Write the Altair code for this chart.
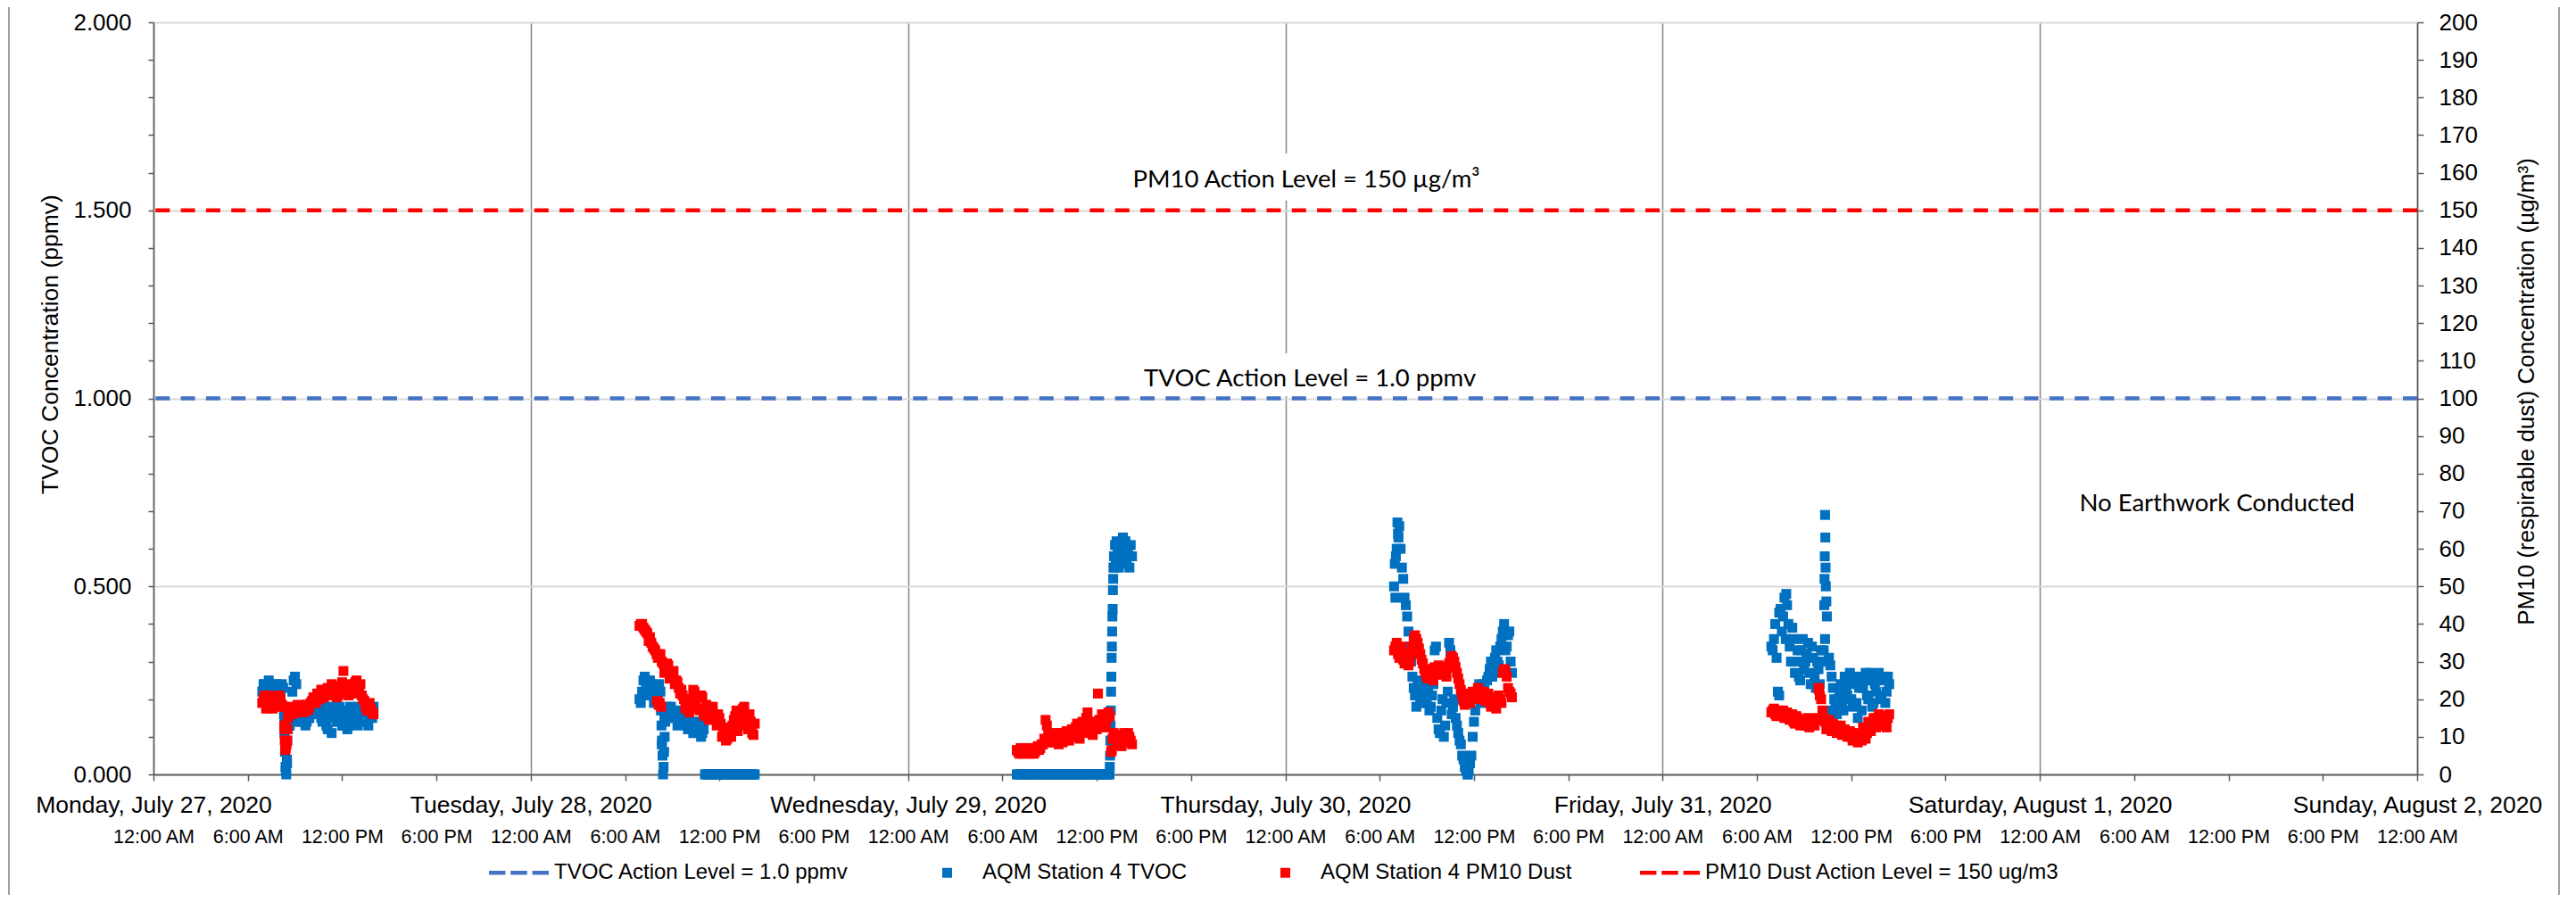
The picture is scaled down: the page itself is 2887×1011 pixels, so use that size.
import altair as alt
import pandas as pd

FONT = "Liberation Sans"
NOTE_FONT = "Lato"
AX = "#595959"

# ---------------- categories / tick labels ----------------
DAY_DATES = ["2020-07-27", "2020-07-28", "2020-07-29", "2020-07-30", "2020-07-31"]
AXIS_DATES = ["2020-07-27", "2020-07-28", "2020-07-29", "2020-07-30",
              "2020-07-31", "2020-08-01", "2020-08-02"]
TICK_HOURS = ["00:00", "06:00", "12:00", "18:00"]
LEFT_TICKS = [0.0, 0.1, 0.2, 0.3, 0.4, 0.5, 0.6, 0.7, 0.8, 0.9, 1.0,
              1.1, 1.2, 1.3, 1.4, 1.5, 1.6, 1.7, 1.8, 1.9, 2.0]
RIGHT_TICKS = [0, 10, 20, 30, 40, 50, 60, 70, 80, 90, 100,
               110, 120, 130, 140, 150, 160, 170, 180, 190, 200]

SERIES_TVOC = "AQM Station 4 TVOC"
SERIES_PM = "AQM Station 4 PM10 Dust"
LEG_NAMES = ["TVOC Action Level = 1.0 ppmv", SERIES_TVOC, SERIES_PM,
             "PM10 Dust Action Level = 150 ug/m3"]
LEG_COLORS = ["#4472C4", "#0070C0", "#FF0000", "#FF0000"]
SQ = "M-0.165,-0.165H0.165V0.165H-0.165Z"
DASH = "M-1,-0.065H-0.45V0.065H-1Z M-0.275,-0.065H0.275V0.065H-0.275Z M0.45,-0.065H1V0.065H0.45Z"
LEG_SHAPES = [DASH, SQ, SQ, DASH]

TVOC_LEVEL = [1.0]
PM_LEVEL = [150]

START_A = "06:55"   # first reading of list "a" each day
START_B = "07:00"   # first reading of list "b" each day
STEP_MIN = 10       # spacing inside each list (minutes)

# ---------------- Monday ----------------
mon_tvoc_a = [0.22, 0.24, 0.21, 0.23, 0.24, 0.22, 0.23, 0.21, 0.23, 0.01, 0.14,
              0.14, 0.25, 0.24, 0.15, 0.14, 0.14, 0.14, 0.15, 0.17, 0.19,
              0.16, 0.19, 0.14, 0.18, 0.12, 0.15, 0.18, 0.16, 0.14, 0.17,
              0.13, 0.16, 0.13, 0.17, 0.14, 0.16, 0.18, 0.15, 0.16, 0.14,
              0.17, 0.15]
mon_tvoc_b = [0.24, 0.21, 0.25, 0.22, 0.20, 0.24, 0.21, 0.24, 0.15, 0.03, 0.13,
              0.22, 0.26, 0.16, 0.14, 0.15, 0.13, 0.15, 0.16, 0.19, 0.17,
              0.20, 0.15, 0.17, 0.13, 0.17, 0.11, 0.17, 0.14, 0.18, 0.13,
              0.15, 0.12, 0.18, 0.14, 0.16, 0.13, 0.17, 0.14, 0.17, 0.13,
              0.16, 0.18]
mon_tvoc_x = [("08:18", 0.16), ("08:20", 0.11), ("08:22", 0.06), ("08:24", 0.02),
              ("08:27", 0.0), ("08:29", 0.04), ("08:31", 0.09), ("08:33", 0.12)]
mon_pm_a = [19, 21, 18, 20, 17.5, 20.5, 19, 20, 18, 7, 17,
            18, 16.5, 17.5, 16.5, 18, 17, 18.5, 18, 19.5, 20,
            21.5, 20, 22.5, 21, 23, 21.5, 22, 23.5, 21, 22,
            27.5, 22.5, 21, 24, 22, 25, 23.5, 21, 19.5, 17,
            19, 16.5]
mon_pm_b = [20, 17.5, 21, 18.5, 19.5, 18, 21, 18.5, 12, 9, 17.5,
            16, 17.5, 18.5, 17, 16.5, 18.5, 17, 19, 20.5, 19,
            21, 22.5, 20.5, 22, 21, 24, 22.5, 20.5, 23, 24.5,
            23, 21.5, 23.5, 21.5, 24.5, 22, 24, 20, 18, 18.5,
            17.5, 16]
mon_pm_x = [("08:19", 13), ("08:21", 9), ("08:23", 6.5), ("08:28", 8),
            ("08:31", 12), ("08:33", 15)]

# ---------------- Tuesday ----------------
tue_tvoc_a = [0.20, 0.22, 0.26, 0.24, 0.25, 0.21, 0.23, 0.20, 0.22, 0.0, 0.17,
              0.16, 0.18, 0.15, 0.17, 0.14, 0.16, 0.15, 0.13, 0.14, 0.12,
              0.14, 0.11, 0.13, 0.11, 0.0, 0.0, 0.0, 0.0, 0.0, 0.0,
              0.0, 0.0, 0.0, 0.0, 0.0, 0.0, 0.0, 0.0, 0.0, 0.0,
              0.0, 0.0, 0.0, 0.0]
tue_tvoc_b = [0.19, 0.25, 0.23, 0.21, 0.24, 0.19, 0.22, 0.24, 0.08, 0.15, 0.18,
              0.15, 0.17, 0.16, 0.13, 0.15, 0.14, 0.16, 0.12, 0.13, 0.11,
              0.12, 0.14, 0.10, 0.12, 0.0, 0.0, 0.0, 0.0, 0.0, 0.0,
              0.0, 0.0, 0.0, 0.0, 0.0, 0.0, 0.0, 0.0, 0.0, 0.0,
              0.0, 0.0, 0.0]
tue_tvoc_x = [("08:17", 0.17), ("08:19", 0.13), ("08:21", 0.09), ("08:23", 0.05),
              ("08:27", 0.02), ("08:29", 0.06), ("08:31", 0.10), ("08:33", 0.14)]
tue_pm_a = [39.5, 40, 38.5, 37.5, 36.5, 34, 33, 31, 32, 29.5, 28,
            29, 26.5, 27.5, 25, 23, 22.5, 20, 18.5, 16.5, 19,
            22, 21, 17, 20.5, 15.5, 17.5, 16, 18, 14.5, 16,
            13.5, 11, 9, 12, 10, 14.5, 17, 13, 16.5, 18,
            14, 16, 11, 13.5]
tue_pm_b = [40, 39, 38, 35.5, 35, 33.5, 32, 19, 30, 27, 29.5,
            25.5, 27, 24, 24.5, 21.5, 21, 17.5, 18, 20, 22.5,
            19.5, 17.5, 21, 16, 18.5, 14.5, 17, 15, 13, 15,
            10, 12.5, 9.5, 11, 13, 15.5, 11.5, 15, 17.5, 15,
            12, 14, 10.5]
tue_pm_x = [("08:02", 19.5), ("08:08", 18.5), ("08:12", 19), ("08:18", 18)]

# ---------------- Wednesday ----------------
wed_tvoc_a = [0.0, 0.0, 0.0, 0.0, 0.0, 0.0, 0.0, 0.0, 0.0, 0.0, 0.0,
              0.0, 0.0, 0.0, 0.0, 0.0, 0.0, 0.0, 0.0, 0.0, 0.0,
              0.0, 0.0, 0.0, 0.0, 0.0, 0.0, 0.0, 0.0, 0.0, 0.0,
              0.0, 0.0, 0.0, 0.0, 0.0]
wed_tvoc_b = [0.0, 0.0, 0.0, 0.0, 0.0, 0.0, 0.0, 0.0, 0.0, 0.0, 0.0,
              0.0, 0.0, 0.0, 0.0, 0.0, 0.0, 0.0, 0.0, 0.0, 0.0,
              0.0, 0.0, 0.0, 0.0, 0.0, 0.0, 0.0, 0.0, 0.0, 0.0,
              0.0, 0.0, 0.0, 0.0]
wed_tvoc_x = [("12:49", 0.0), ("12:50", 0.02), ("12:51", 0.05), ("12:52", 0.09),
              ("12:53", 0.13), ("12:54", 0.17), ("12:55", 0.22), ("12:56", 0.26),
              ("12:57", 0.31), ("12:58", 0.34), ("12:59", 0.38), ("13:00", 0.42),
              ("13:01", 0.44), ("13:02", 0.49), ("13:03", 0.52), ("13:04", 0.55),
              ("13:06", 0.58), ("13:08", 0.55), ("13:10", 0.61), ("13:13", 0.57),
              ("13:16", 0.62), ("13:20", 0.59), ("13:25", 0.55), ("13:30", 0.60),
              ("13:35", 0.57), ("13:40", 0.63), ("13:45", 0.58), ("13:50", 0.62),
              ("13:55", 0.56), ("14:00", 0.60), ("14:05", 0.55), ("14:10", 0.61),
              ("14:15", 0.58)]
wed_pm_a = [6.5, 5.5, 7, 6, 7, 5.5, 6.5, 6, 7.5, 7, 8,
            14.5, 11, 9.5, 8.5, 11, 8, 10.5, 9, 11.5, 9,
            12, 10, 13.5, 9.5, 14, 11, 16.5, 12.5, 10.5, 14,
            21.5, 13, 15.5, 12.5, 16.5, 6, 11, 8, 10.5, 7.5,
            11, 8.5, 10, 8]
wed_pm_b = [6, 7, 5.5, 6.5, 6, 7, 5.5, 7, 6.5, 8, 9.5,
            13, 10, 8.5, 10, 9.5, 11, 8.5, 10, 11, 10.5,
            11, 12.5, 11.5, 12, 13, 15, 14, 11.5, 13, 12,
            14.5, 16, 13.5, 15, 15.5, 9.5, 10, 9, 9.5, 10,
            9, 11, 9]
wed_pm_x = [("12:58", 6.5)]

# ---------------- Thursday ----------------
thu_tvoc_a = [0.50, 0.60, 0.66, 0.55, 0.47, 0.42, 0.34, 0.26, 0.21, 0.24, 0.19,
              0.19, 0.23, 0.22, 0.18, 0.24, 0.34, 0.12, 0.17, 0.10, 0.19,
              0.35, 0.16, 0.20, 0.13, 0.09, 0.05, 0.02, 0.0, 0.03, 0.10,
              0.17, 0.22, 0.19, 0.24, 0.21, 0.26, 0.30, 0.27, 0.33, 0.29,
              0.36, 0.40, 0.34, 0.38, 0.27]
thu_tvoc_b = [0.47, 0.64, 0.60, 0.52, 0.45, 0.38, 0.30, 0.23, 0.18, 0.22, 0.25,
              0.21, 0.19, 0.17, 0.21, 0.33, 0.15, 0.11, 0.20, 0.13, 0.22,
              0.33, 0.18, 0.15, 0.11, 0.08, 0.04, 0.01, 0.01, 0.05, 0.14,
              0.20, 0.24, 0.20, 0.23, 0.25, 0.28, 0.26, 0.31, 0.30, 0.34,
              0.38, 0.33, 0.37, 0.30]
thu_tvoc_x = [("06:58", 0.56), ("07:02", 0.58), ("07:08", 0.67), ("07:12", 0.63),
              ("11:37", 0.0), ("11:33", 0.02)]
thu_pm_a = [33, 35, 31, 34, 29.5, 32, 30, 34, 37, 35, 32,
            29.5, 27, 25.5, 28, 25, 27.5, 29, 26.5, 28.5, 26,
            29.5, 31.5, 30, 27, 24, 21, 18.5, 20, 19, 22,
            20.5, 23, 20, 22, 19.5, 21.5, 18, 20.5, 17.5, 21,
            19, 28, 26, 22, 20.5]
thu_pm_b = [34, 32, 33, 30.5, 31, 29, 32, 36, 36, 33.5, 30.5,
            28, 26, 27, 26.5, 28.5, 28, 27.5, 27, 27.5, 28.5,
            30.5, 31, 28.5, 25.5, 22.5, 19.5, 19, 21.5, 20.5, 21,
            22, 21.5, 21, 20.5, 20.5, 19, 19.5, 18.5, 19.5, 20,
            27, 27.5, 23, 21.5]
thu_pm_x = []

# ---------------- Friday ----------------
fri_tvoc_a = [0.34, 0.36, 0.31, 0.43, 0.38, 0.47, 0.45, 0.34, 0.39, 0.27, 0.33,
              0.25, 0.36, 0.30, 0.35, 0.24, 0.31, 0.23, 0.28, 0.33, 0.33,
              0.46, 0.31, 0.26, 0.20, 0.16, 0.22, 0.19, 0.26, 0.21, 0.27,
              0.18, 0.24, 0.15, 0.26, 0.23, 0.27, 0.20, 0.25, 0.19, 0.22,
              0.27, 0.20, 0.26, 0.22, 0.24]
fri_tvoc_b = [0.33, 0.40, 0.22, 0.44, 0.42, 0.36, 0.40, 0.30, 0.36, 0.30, 0.26,
              0.33, 0.28, 0.32, 0.27, 0.34, 0.26, 0.30, 0.24, 0.30, 0.36,
              0.30, 0.29, 0.23, 0.18, 0.20, 0.24, 0.17, 0.23, 0.25, 0.20,
              0.26, 0.19, 0.23, 0.17, 0.25, 0.21, 0.27, 0.18, 0.24, 0.26,
              0.21, 0.25, 0.19, 0.26]
fri_tvoc_x = [("07:25", 0.21), ("07:52", 0.48), ("10:17", 0.45), ("10:18", 0.52),
              ("10:19", 0.58), ("10:20", 0.69), ("10:21", 0.63), ("10:22", 0.55),
              ("10:23", 0.50), ("10:27", 0.42), ("10:45", 0.17)]
fri_pm_a = [16.5, 17.5, 15.5, 17, 16, 15, 16.5, 14.5, 16, 13.5, 15,
            13, 14.5, 13, 15, 13.5, 14.5, 14.5, 23, 20, 15,
            12, 14.5, 11.5, 13, 11, 12.5, 10.5, 12, 10, 11.5,
            9, 11, 8.5, 10.5, 12.5, 9.5, 14, 11.5, 15, 12.5,
            16, 13, 15.5, 12.5, 16]
fri_pm_b = [17, 16, 16.5, 15.5, 17, 15.5, 15, 16, 14, 15.5, 14,
            14, 13.5, 14.5, 12.5, 14, 13, 15, 21, 17, 14,
            13, 12, 13.5, 12, 11.5, 13, 11, 11.5, 10.5, 10,
            10, 9.5, 10, 9, 11.5, 11, 12.5, 13, 13.5, 14.5,
            14, 15, 13.5, 15]
fri_pm_x = [("09:57", 22.5)]

TVOC_DAYS = [(mon_tvoc_a, mon_tvoc_b, mon_tvoc_x), (tue_tvoc_a, tue_tvoc_b, tue_tvoc_x),
             (wed_tvoc_a, wed_tvoc_b, wed_tvoc_x), (thu_tvoc_a, thu_tvoc_b, thu_tvoc_x),
             (fri_tvoc_a, fri_tvoc_b, fri_tvoc_x)]
PM_DAYS = [(mon_pm_a, mon_pm_b, mon_pm_x), (tue_pm_a, tue_pm_b, tue_pm_x),
           (wed_pm_a, wed_pm_b, wed_pm_x), (thu_pm_a, thu_pm_b, thu_pm_x),
           (fri_pm_a, fri_pm_b, fri_pm_x)]


# ---------------- helpers ----------------
def ms(date, hhmm):
    h, m = (int(s) for s in hhmm.split(":"))
    return int(pd.Timestamp(date + "T00:00:00Z").value // 1_000_000) + (h * 60 + m) * 60000


def hhmm_of(mins):
    return f"{mins // 60:02d}:{mins % 60:02d}"


def regular(date, start, vals):
    h, m = (int(s) for s in start.split(":"))
    t0 = h * 60 + m
    return [(ms(date, hhmm_of(t0 + STEP_MIN * i)), v) for i, v in enumerate(vals)]


def day_rows(date, a, b, extra):
    out = regular(date, START_A, a) + regular(date, START_B, b)
    out += [(ms(date, hh), v) for hh, v in extra]
    return sorted(out)


tvoc_rows, pm_rows = [], []
for date, (a, b, x) in zip(DAY_DATES, TVOC_DAYS):
    tvoc_rows += day_rows(date, a, b, x)
for date, (a, b, x) in zip(DAY_DATES, PM_DAYS):
    pm_rows += day_rows(date, a, b, x)

tvoc_df = pd.DataFrame(tvoc_rows, columns=["t", "v"])
tvoc_df["series"] = SERIES_TVOC
pm_df = pd.DataFrame(pm_rows, columns=["t", "p"])
pm_df["series"] = SERIES_PM

TIME_TICKS = [ms(d, hh) for d in AXIS_DATES[:-1] for hh in TICK_HOURS] + [ms(AXIS_DATES[-1], "00:00")]
DAY_TICKS = [ms(d, "00:00") for d in AXIS_DATES]
X0, X1 = DAY_TICKS[0], DAY_TICKS[-1]

ann_tvoc = pd.DataFrame({"t": [ms("2020-07-30", "01:34")], "v": [1.031],
                         "label": ["TVOC Action Level = 1.0 ppmv"]})
ann_note = pd.DataFrame({"t": [ms("2020-08-01", "11:16")], "v": [0.700],
                         "label": ["No Earthwork Conducted"]})
ann_pm = pd.DataFrame({"t": [ms("2020-07-30", "01:20")], "p": [156.1],
                       "label": ["PM10 Action Level = 150 µg/m³"]})
box_tvoc = pd.DataFrame({"t": [ms("2020-07-29", "23:30")], "t2": [ms("2020-07-30", "00:30")],
                         "v": [1.006], "v2": [1.12]})
box_pm = pd.DataFrame({"t": [ms("2020-07-29", "23:30")], "t2": [ms("2020-07-30", "00:30")],
                       "p": [152.6], "p2": [165.1]})

# ---------------- scales / axes ----------------
xscale = alt.Scale(type="utc", domain=[X0, X1], nice=False)
yl = alt.Scale(domain=[0, 2], nice=False)
yr = alt.Scale(domain=[0, 200], nice=False)
GRID_TEST = "abs(datum.value*2 - round(datum.value*2)) < 0.001 && datum.value > 0"

time_axis = alt.Axis(title=None, orient="bottom", values=TIME_TICKS,
                     labelExpr="utcFormat(datum.value, '%-I:%M %p')",
                     labelFontSize=21.5, labelBaseline="alphabetic", labelPadding=69,
                     labelFlush=False, labelOverlap=False, labelLimit=1000,
                     tickSize=7, tickColor=AX, tickWidth=1.5,
                     domainColor=AX, domainWidth=2, grid=False)
day_axis = alt.Axis(title=None, orient="bottom", values=DAY_TICKS,
                    labelExpr="utcFormat(datum.value, '%A, %B %-d, %Y')",
                    labelFontSize=26.5, labelBaseline="alphabetic", labelPadding=42,
                    labelFlush=False, labelOverlap=False, labelLimit=1000,
                    ticks=False, tickSize=0, domain=False,
                    grid=True, gridColor="#868686", gridWidth=1.5)
left_axis = alt.Axis(title="TVOC Concentration (ppmv)", orient="left", values=LEFT_TICKS,
                     labelExpr="abs(datum.value*2 - round(datum.value*2)) < 0.001 ? format(datum.value, '.3f') : ''",
                     labelFontSize=26, labelPadding=19, labelOverlap=False,
                     tickSize=6, tickColor=AX, tickWidth=1.5,
                     domainColor=AX, domainWidth=1.5,
                     grid=True, gridColor="#D9D9D9", gridWidth=2,
                     gridOpacity={"condition": {"test": GRID_TEST, "value": 1}, "value": 0},
                     titleFontSize=26.5, titleAngle=270, titleX=-107.6, titleY=360.5,
                     titleAlign="center", titleBaseline="alphabetic", titleLimit=2000)
right_axis = alt.Axis(title="PM10 (respirable dust) Concentration (µg/m³)", orient="right",
                      values=RIGHT_TICKS, format="d",
                      labelFontSize=26, labelPadding=17, labelOverlap=False,
                      tickSize=7, tickColor=AX, tickWidth=1.5,
                      domainColor=AX, domainWidth=1.5, grid=False,
                      titleFontSize=26, titleAngle=270, titleX=130.5, titleY=413.5,
                      titleAlign="center", titleBaseline="alphabetic", titleLimit=2000)

legend = alt.Legend(title=None, orient="none", legendX=376, legendY=919.5,
                    direction="horizontal", columns=4, symbolSize=4489,
                    symbolStrokeWidth=0, symbolOffset=0, labelFont=FONT,
                    labelFontSize=24, labelColor="#000000", labelLimit=2000,
                    labelOffset=6, columnPadding=76, padding=0, rowPadding=0)
color_enc = alt.Color("series:N", scale=alt.Scale(domain=LEG_NAMES, range=LEG_COLORS), legend=legend)
shape_enc = alt.Shape("series:N", scale=alt.Scale(domain=LEG_NAMES, range=LEG_SHAPES), legend=legend)

X_L = alt.X("t:T", scale=xscale, axis=time_axis)
X_R = alt.X("t:T", scale=xscale, axis=day_axis)
Y_L = alt.Y("v:Q", scale=yl, axis=left_axis)
Y_R = alt.Y("p:Q", scale=yr, axis=right_axis)

one = pd.DataFrame({"a": [0]})

# ---------------- left (TVOC) layer ----------------
frame_l = alt.Chart(one).mark_rule(color="#7F7F7F", strokeWidth=1.5).encode(
    x=alt.value(-162), y=alt.value(-17), y2=alt.value(978))
frame_r = alt.Chart(one).mark_rule(color="#7F7F7F", strokeWidth=1.5).encode(
    x=alt.value(2696), y=alt.value(-17), y2=alt.value(978))
tvoc_rule = alt.Chart(pd.DataFrame({"v": TVOC_LEVEL})).mark_rule(
    color="#4472C4", strokeWidth=4.5, strokeDash=[16, 12.3]).encode(y=Y_L)
tvoc_pts = alt.Chart(tvoc_df).mark_point(filled=True, opacity=1, size=4489, strokeWidth=0).encode(
    x=X_L, y=Y_L, color=color_enc, shape=shape_enc)
tvoc_box = alt.Chart(box_tvoc).mark_rect(color="white").encode(
    x=X_L, x2="t2", y=Y_L, y2="v2")
tvoc_txt = alt.Chart(ann_tvoc).mark_text(font=NOTE_FONT, fontSize=27.5, color="#000000",
                                         align="center", baseline="alphabetic").encode(
    x=X_L, y=Y_L, text="label:N")
note_txt = alt.Chart(ann_note).mark_text(font=NOTE_FONT, fontSize=27.5, color="#000000",
                                         align="center", baseline="alphabetic").encode(
    x=X_L, y=Y_L, text="label:N")
left = alt.layer(frame_l, frame_r, tvoc_rule, tvoc_pts, tvoc_box, tvoc_txt, note_txt)

# ---------------- right (PM10) layer ----------------
pm_rule = alt.Chart(pd.DataFrame({"p": PM_LEVEL})).mark_rule(
    color="#FF0000", strokeWidth=4.5, strokeDash=[16, 12.3]).encode(y=Y_R)
pm_pts = alt.Chart(pm_df).mark_point(filled=True, opacity=1, size=4489, strokeWidth=0).encode(
    x=X_R, y=Y_R, color=color_enc, shape=shape_enc)
pm_box = alt.Chart(box_pm).mark_rect(color="white").encode(
    x=X_R, x2="t2", y=Y_R, y2="p2")
pm_txt = alt.Chart(ann_pm).mark_text(font=NOTE_FONT, fontSize=27.5, color="#000000",
                                     align="center", baseline="alphabetic").encode(
    x=X_R, y=Y_R, text="label:N")
right = alt.layer(pm_rule, pm_pts, pm_box, pm_txt)

chart = (
    alt.layer(left, right)
    .resolve_scale(y="independent")
    .resolve_axis(x="independent")
    .properties(width=2537, height=843,
                autosize=alt.AutoSizeParams(type="none"),
                padding={"left": 164, "top": 17, "right": 170, "bottom": 135},
                background="white")
    .configure_view(strokeWidth=0)
    .configure_axis(labelFont=FONT, titleFont=FONT, labelColor="#000000",
                    titleColor="#000000", titleFontWeight="normal")
)

chart.save("out.html", embed_options={"renderer": "svg", "actions": False})
